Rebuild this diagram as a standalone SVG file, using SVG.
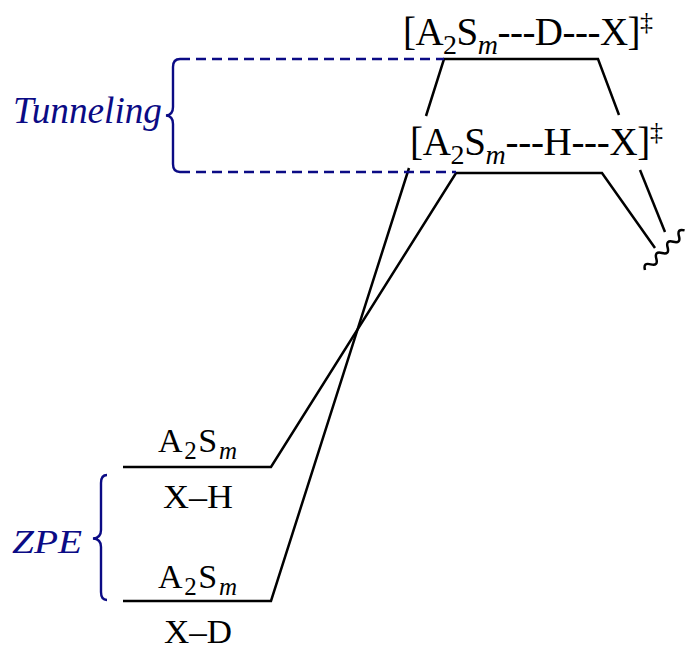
<svg xmlns="http://www.w3.org/2000/svg" width="698" height="656" viewBox="0 0 698 656">
<style>
.ln{fill:none;stroke:#000;stroke-width:2.5;stroke-linecap:butt;stroke-linejoin:miter}
.dash{fill:none;stroke:#0b0b85;stroke-width:2.5;stroke-dasharray:10 6}
.brace{fill:none;stroke:#0b0b85;stroke-width:2.4}
.lbl{font-family:"Liberation Serif","Times New Roman",serif;fill:#000}
.blue{font-family:"Liberation Serif","Times New Roman",serif;font-style:italic;fill:#0b0b85}
</style>
<rect width="698" height="656" fill="#fff"/>
<g id="connectors">
<path class="ln" d="M123,467 H271 L456,173 H602 L655,248"/>
<path class="ln" d="M123,601 H271 L409,168"/>
<path class="ln" d="M426,116 L444,59 H598 L619,115"/>
<path class="ln" d="M640,170 L665,232"/>
<path class="ln" d="M0,0 q4,-7 8,0 t8,0 t8,0 t8,0 t8,0 t8,0 t8,0" transform="translate(645,270) rotate(-45)"/>
<path class="dash" d="M180,59 H444"/>
<path class="dash" d="M180,172 H456"/>
</g>
<g id="tunneling">
<path class="brace" d="M180,59 Q173,59 173,67 L173,107 Q173,115 166,115.5 Q173,116 173,124 L173,164 Q173,172 180,172"/>
<text class="blue" x="13" y="123" font-size="38" textLength="149" lengthAdjust="spacingAndGlyphs">Tunneling</text>
</g>
<g id="zpe">
<path class="brace" d="M107,475 Q101,475 101,483 L101,530 Q101,538 93,538.5 Q101,539 101,547 L101,592 Q101,600 107,600"/>
<text class="blue" x="12" y="553" font-size="34" textLength="70" lengthAdjust="spacingAndGlyphs">ZPE</text>
</g>
<g id="ts-d">
<text class="lbl" x="403" y="45" font-size="39" textLength="250" lengthAdjust="spacing">[A<tspan font-size="28" dy="9">2</tspan><tspan dy="-9">S</tspan><tspan font-size="28" font-style="italic" dy="9">m</tspan><tspan dy="-9">---D---X]</tspan><tspan font-size="26" dy="-15">‡</tspan></text>
</g>
<g id="ts-h">
<text class="lbl" x="410" y="155" font-size="39" textLength="253" lengthAdjust="spacing">[A<tspan font-size="28" dy="9">2</tspan><tspan dy="-9">S</tspan><tspan font-size="28" font-style="italic" dy="9">m</tspan><tspan dy="-9">---H---X]</tspan><tspan font-size="26" dy="-15">‡</tspan></text>
</g>
<g id="react-h">
<text class="lbl" x="158" y="452" font-size="34" textLength="79" lengthAdjust="spacing">A<tspan font-size="25" dy="7">2</tspan><tspan dy="-7">S</tspan><tspan font-size="25" font-style="italic" dy="7">m</tspan></text>
<text class="lbl" x="163" y="508" font-size="33" textLength="70" lengthAdjust="spacingAndGlyphs">X–H</text>
</g>
<g id="react-d">
<text class="lbl" x="158" y="588" font-size="34" textLength="79" lengthAdjust="spacing">A<tspan font-size="25" dy="7">2</tspan><tspan dy="-7">S</tspan><tspan font-size="25" font-style="italic" dy="7">m</tspan></text>
<text class="lbl" x="164" y="643" font-size="33" textLength="68" lengthAdjust="spacingAndGlyphs">X–D</text>
</g>
</svg>
